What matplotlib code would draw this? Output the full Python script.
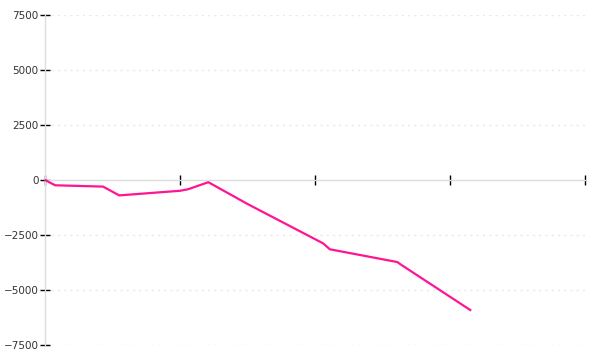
import matplotlib
matplotlib.use("Agg")
import matplotlib.pyplot as plt

# data
x_vals = [0, 0.75, 4.3, 5.5, 10, 10.6, 12.1, 15, 20.6, 21.1, 26.1, 26.3, 31.5]
y_vals = [0, -240, -300, -700, -490, -420, -100, -1090, -2880, -3150, -3730, -3820, -5910]
y_ticks = [-7500, -5000, -2500, 0, 2500, 5000, 7500]
x_ticks = [0, 10, 20, 30, 40]

fig = plt.figure(figsize=(6, 3.6), dpi=100)
ax = fig.add_axes([0.075, 0.0417, 0.9, 0.9166])

ax.plot(x_vals, y_vals, color="#ff1493", linewidth=1.6, zorder=3)

ax.set_xlim(0, 40)
ax.set_ylim(-7500, 7500)

ax.set_yticks(y_ticks)
ax.set_yticklabels([str(v).replace("-", "\u2212") for v in y_ticks])
ax.set_xticks(x_ticks)
ax.set_xticklabels([])

for side in ["top", "right"]:
    ax.spines[side].set_visible(False)
ax.spines["left"].set_color("#dddddd")
ax.spines["left"].set_linewidth(1)
ax.spines["bottom"].set_position(("data", 0))
ax.spines["bottom"].set_color("#dddddd")
ax.spines["bottom"].set_linewidth(1)

ax.tick_params(axis="y", direction="inout", length=7, width=1, color="black",
               labelsize=7.5, labelcolor="#333333", pad=1)
ax.tick_params(axis="x", direction="inout", length=7, width=1, color="black")

for y in y_ticks:
    if y != 0:
        ax.axhline(y, color="#e8e8e8", linestyle=(0, (1.5, 3)), linewidth=1, zorder=0)

fig.savefig("out.png", dpi=100)
